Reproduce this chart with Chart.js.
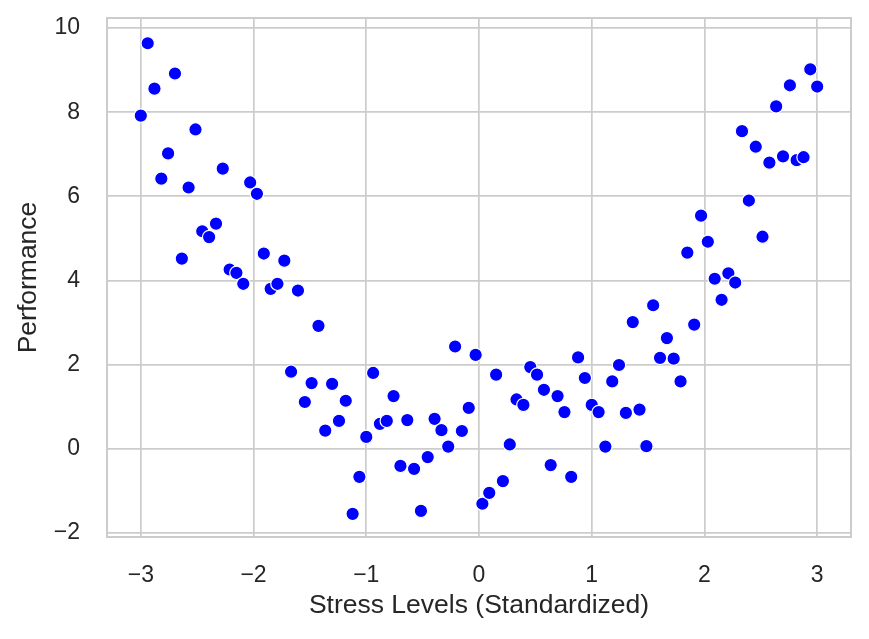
<!DOCTYPE html>
<html lang="en">
<head>
    <meta charset="UTF-8">
    <title>Stress Levels vs Performance</title>
    <style>
        html, body {
            margin: 0;
            padding: 0;
            background-color: #ffffff;
        }

        canvas {
            display: block;
        }
    </style>
</head>
<body>
    <canvas id="chartCanvas" width="869" height="639"></canvas>

    <script src="https://cdn.jsdelivr.net/npm/chart.js@4.4.1/dist/chart.umd.min.js"></script>
    <script>
        // Standardized stress levels (100 evenly spaced samples)
        const stressLevels = [
            -3.000, -2.939, -2.879, -2.818, -2.758, -2.697, -2.636, -2.576, -2.515, -2.455,
            -2.394, -2.333, -2.273, -2.212, -2.152, -2.091, -2.030, -1.970, -1.909, -1.848,
            -1.788, -1.727, -1.667, -1.606, -1.545, -1.485, -1.424, -1.364, -1.303, -1.242,
            -1.182, -1.121, -1.061, -1.000, -0.939, -0.879, -0.818, -0.758, -0.697, -0.636,
            -0.576, -0.515, -0.455, -0.394, -0.333, -0.273, -0.212, -0.152, -0.091, -0.030,
            0.030, 0.091, 0.152, 0.212, 0.273, 0.333, 0.394, 0.455, 0.515, 0.576,
            0.636, 0.697, 0.758, 0.818, 0.879, 0.939, 1.000, 1.061, 1.121, 1.182,
            1.242, 1.303, 1.364, 1.424, 1.485, 1.545, 1.606, 1.667, 1.727, 1.788,
            1.848, 1.909, 1.970, 2.030, 2.091, 2.152, 2.212, 2.273, 2.333, 2.394,
            2.455, 2.515, 2.576, 2.636, 2.697, 2.758, 2.818, 2.879, 2.939, 3.000
        ];

        const performance = [
            7.92, 9.64, 8.56, 6.42, 7.02, 8.92, 4.52, 6.21, 7.59, 5.17,
            5.03, 5.35, 6.66, 4.26, 4.18, 3.92, 6.33, 6.06, 4.64, 3.80,
            3.92, 4.47, 1.83, 3.76, 1.11, 1.56, 2.92, 0.43, 1.54, 0.66,
            1.14, -1.55, -0.67, 0.28, 1.80, 0.59, 0.66, 1.25, -0.41, 0.68,
            -0.48, -1.48, -0.20, 0.71, 0.44, 0.05, 2.43, 0.42, 0.97, 2.23,
            -1.31, -1.05, 1.76, -0.77, 0.10, 1.17, 1.04, 1.94, 1.76, 1.40,
            -0.39, 1.25, 0.87, -0.67, 2.17, 1.68, 1.04, 0.87, 0.05, 1.60,
            1.99, 0.85, 3.01, 0.93, 0.06, 3.41, 2.16, 2.63, 2.14, 1.60,
            4.66, 2.95, 5.54, 4.92, 4.04, 3.54, 4.17, 3.95, 7.55, 5.90,
            7.18, 5.04, 6.80, 8.14, 6.95, 8.64, 6.86, 6.93, 9.02, 8.61
        ];

        const xTicks = [-3, -2, -1, 0, 1, 2, 3];
        const yTicks = [-2, 0, 2, 4, 6, 8, 10];

        const gridColor = '#cccccc';
        const textColor = '#262626';
        const fontFamily = "'Liberation Sans', Arial, sans-serif";

        // use a real minus sign like matplotlib does
        function formatTick(value) {
            return String(value).replace('-', '\u2212');
        }

        // light grey frame on all four sides of the plot area
        const framePlugin = {
            id: 'frame',
            afterDraw(chart) {
                const { ctx, chartArea } = chart;
                ctx.save();
                ctx.strokeStyle = gridColor;
                ctx.lineWidth = 2;
                ctx.strokeRect(chartArea.left, chartArea.top,
                    chartArea.right - chartArea.left, chartArea.bottom - chartArea.top);
                ctx.restore();
            }
        };

        const points = stressLevels.map((x, i) => ({ x: x, y: performance[i] }));

        const ctx = document.getElementById('chartCanvas').getContext('2d');
        const chart = new Chart(ctx, {
            type: 'scatter',
            data: {
                datasets: [{
                    label: 'Performance',
                    data: points,
                    backgroundColor: '#0000ff',
                    borderColor: '#ffffff',
                    borderWidth: 1.2,
                    pointRadius: 6.7,
                    pointHoverRadius: 6.7
                }]
            },
            options: {
                responsive: false,
                animation: false,
                devicePixelRatio: 1,
                layout: {
                    padding: { left: 0, top: 18, right: 18, bottom: 0 }
                },
                plugins: {
                    legend: { display: false },
                    tooltip: { enabled: false }
                },
                scales: {
                    x: {
                        type: 'linear',
                        min: -3.3,
                        max: 3.3,
                        afterBuildTicks(scale) {
                            scale.ticks = xTicks.map(v => ({ value: v }));
                        },
                        afterFit(scale) {
                            scale.height = 102;
                            scale.paddingLeft = 0;
                            scale.paddingRight = 0;
                        },
                        border: { display: false },
                        grid: {
                            color: gridColor,
                            lineWidth: 1.7,
                            drawTicks: false
                        },
                        ticks: {
                            padding: 25,
                            color: textColor,
                            font: { family: fontFamily, size: 23 },
                            callback: formatTick
                        },
                        title: {
                            display: true,
                            text: 'Stress Levels (Standardized)',
                            color: textColor,
                            font: { family: fontFamily, size: 26.5 },
                            padding: { top: 0, bottom: 17 }
                        }
                    },
                    y: {
                        type: 'linear',
                        min: -2.1,
                        max: 10.24,
                        afterBuildTicks(scale) {
                            scale.ticks = yTicks.map(v => ({ value: v }));
                        },
                        afterFit(scale) {
                            scale.width = 107;
                            scale.paddingTop = 0;
                            scale.paddingBottom = 0;
                        },
                        border: { display: false },
                        grid: {
                            color: gridColor,
                            lineWidth: 1.7,
                            drawTicks: false
                        },
                        ticks: {
                            padding: 27,
                            color: textColor,
                            font: { family: fontFamily, size: 23 },
                            callback: formatTick
                        },
                        title: {
                            display: true,
                            text: 'Performance',
                            color: textColor,
                            font: { family: fontFamily, size: 26.5 },
                            padding: { top: 13, bottom: 0 }
                        }
                    }
                }
            },
            plugins: [framePlugin]
        });
    </script>
</body>
</html>
